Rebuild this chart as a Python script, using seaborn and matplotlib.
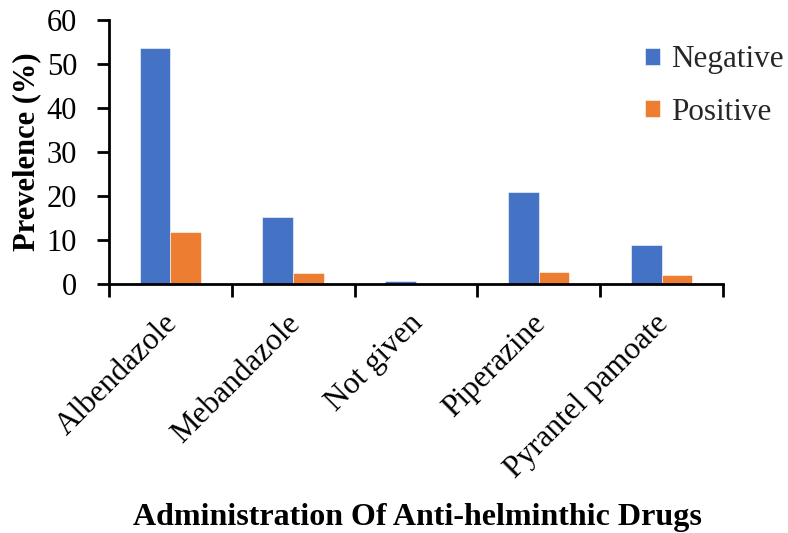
import matplotlib
matplotlib.use("Agg")
import matplotlib.pyplot as plt
import seaborn as sns
import pandas as pd

drugs = ["Albendazole", "Mebandazole", "Not given", "Piperazine", "Pyrantel pamoate"]
negative = [53.6, 15.2, 0.6, 20.8, 8.8]
positive = [11.9, 2.4, 0.0, 2.7, 2.0]
series = ["Negative", "Positive"]
colors = ["#4472C4", "#ED7D31"]
y_ticks = [0, 10, 20, 30, 40, 50, 60]

df = pd.DataFrame({
    "Drug": drugs * 2,
    "Result": [series[0]] * len(drugs) + [series[1]] * len(drugs),
    "Prevalence": negative + positive,
})

sns.set_theme(style="white")
plt.rcParams["font.family"] = ["Liberation Serif", "DejaVu Serif"]

fig = plt.figure(figsize=(7.88, 5.33), dpi=100)
ax = fig.add_axes([0.1383, 0.4672, 0.7792, 0.4953])

sns.barplot(data=df, x="Drug", y="Prevalence", hue="Result", order=drugs,
            hue_order=series, palette=colors, saturation=1, width=0.5, ax=ax,
            edgecolor="white", linewidth=0.4, errorbar=None)

ax.set_xlim(-0.5, len(drugs) - 0.5)
ax.set_ylim(0, 60)
ax.set_yticks(y_ticks)
ax.set_yticklabels([str(v) for v in y_ticks], fontsize=22, color="black")

# category boundaries carry the tick marks; the rotated names hang just
# left of each group centre
ax.set_xticks([i - 0.5 for i in range(len(drugs) + 1)])
ax.set_xticklabels([])
ax.set_xticks([i - 0.06 for i in range(len(drugs))], minor=True)
ax.set_xticklabels(drugs, minor=True, rotation=45, ha="right", va="top",
                   rotation_mode="anchor", fontsize=22.5, color="black")
ax.tick_params(axis="x", which="minor", length=0, pad=18)
ax.tick_params(axis="x", which="major", direction="out", length=9, width=2,
               color="black", bottom=True)
ax.tick_params(axis="y", direction="out", length=9, width=2, color="black",
               left=True, pad=14)

for side in ["top", "right"]:
    ax.spines[side].set_visible(False)
for side in ["left", "bottom"]:
    ax.spines[side].set_color("black")
    ax.spines[side].set_linewidth(2)

ax.set_ylabel("Prevelence (%)", fontsize=22, fontweight="bold", color="black",
              labelpad=4)
ax.set_xlabel("")
fig.text(0.53, 0.015, "Administration Of Anti-helminthic Drugs", ha="center",
         va="baseline", fontsize=23, fontweight="bold", color="black")

ax.legend(loc="upper left", bbox_to_anchor=(0.819, 0.915),
          bbox_transform=fig.transFigure, frameon=False, fontsize=22.4,
          handlelength=0.48, handleheight=0.48, handletextpad=0.35,
          labelspacing=0.75, borderaxespad=0, borderpad=0)

fig.savefig("out.png", dpi=100)
